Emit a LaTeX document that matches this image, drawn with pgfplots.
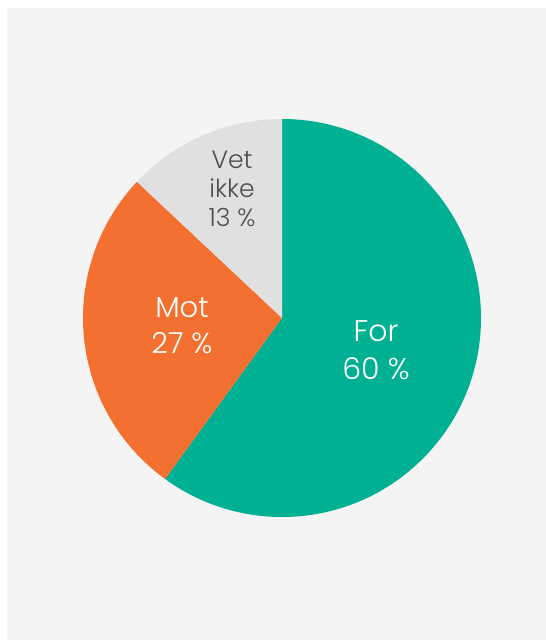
\documentclass[border=0pt]{standalone}
\usepackage{fontspec}
\setmainfont{Poppins}[UprightFont={* Light}]
\usepackage{pgfplots}
\usepackage{pgfplotstable}
\pgfplotsset{compat=1.18}

\definecolor{slice0}{HTML}{00B092}
\definecolor{slice1}{HTML}{F47030}
\definecolor{slice2}{HTML}{E0E0E0}
\definecolor{panelbg}{HTML}{F4F4F4}
\definecolor{darktext}{HTML}{4F4F4F}

% share of answers, in per cent, clockwise from 12 o'clock
\pgfplotstableread{
label value
For   60
Mot   27
Vet   13
}\piedata

\begin{document}
\begin{tikzpicture}
\begin{axis}[
  x=1pt, y=1pt,
  xmin=0, xmax=546, ymin=0, ymax=640,
  hide axis, clip=false,
]
% background and panel
\fill[white] (axis cs:0,0) rectangle (axis cs:546,640);
\fill[panelbg] (axis cs:7,0) rectangle (axis cs:546,632);
% wedges, centre (282,322), radius 199
\xdef\startang{90}
\pgfplotsforeachungrouped \i in {0,1,2} {
  \pgfplotstablegetelem{\i}{value}\of\piedata
  \pgfmathsetmacro\sweep{3.6*\pgfplotsretval}
  \pgfmathsetmacro\endang{\startang-\sweep}
  \pgfmathsetmacro\sx{282+199*cos(\startang)}
  \pgfmathsetmacro\sy{322+199*sin(\startang)}
  \edef\temp{\noexpand\fill[slice\i] (axis cs:282,322) -- (axis cs:\sx,\sy)
    arc[start angle=\startang, end angle=\endang, radius=199pt] -- cycle;}
  \temp
  \xdef\startang{\endang}
}
% labels
\node[white, align=center, font=\fontsize{30}{38}\selectfont]
  at (axis cs:376,290) {For\\60 \%};
\node[white, align=center, font=\fontsize{29}{36}\selectfont]
  at (axis cs:182,314) {Mot\\27 \%};
\node[darktext, align=center, font=\fontsize{25}{29}\selectfont]
  at (axis cs:232,451) {Vet\\ikke\\13 \%};
\end{axis}
\end{tikzpicture}
\end{document}
